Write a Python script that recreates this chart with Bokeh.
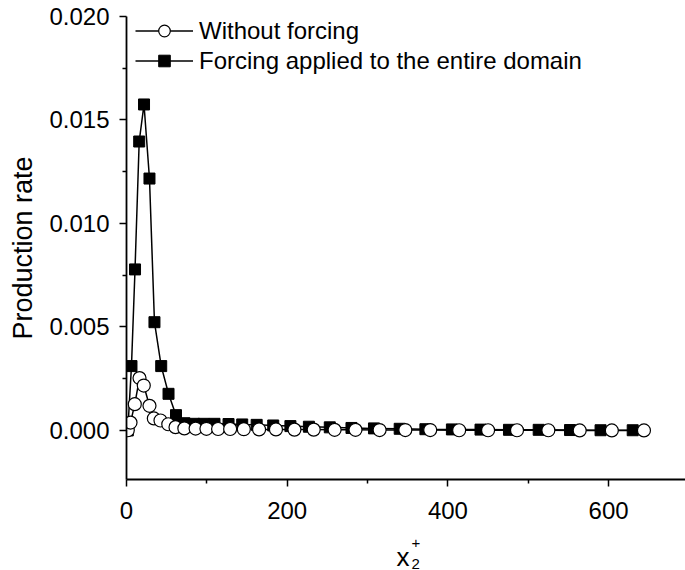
from bokeh.plotting import figure
from bokeh.layouts import column
from bokeh.models import Range1d, FixedTicker, NumeralTickFormatter, Legend, LegendItem
from bokeh.core.properties import value
from bokeh.embed import file_html
from bokeh.resources import INLINE

# ---- data ----
x_without = [1.6, 5, 10.3, 16.2, 21.5, 28.6, 34, 42.3, 52, 61, 72, 86, 99.5, 114, 129, 146,
             165, 186, 209, 233, 259, 285, 315, 347, 378, 414, 450, 486, 525, 564, 604, 644]
y_without = [0.00001, 0.00038, 0.00127, 0.00253, 0.00217, 0.00119, 0.00058, 0.00048, 0.00030,
             0.00016, 0.00010, 0.00009, 0.00008, 0.00007, 0.00007, 0.00006, 0.00005, 0.00005,
             0.00004, 0.00004, 0.00003, 0.00003, 0.00002, 0.00002, 0.00002, 0.00001, 0.00001,
             0.00001, 0.00001, 0.0, 0.0, 0.0]

x_forced = [1.6, 6.2, 10.6, 15.8, 21.8, 28.6, 34.8, 43.2, 52.3, 61.6, 72, 84, 96, 109.5, 127,
            144, 162, 182.6, 204, 227, 253, 280, 308, 340, 372, 405, 440.6, 476, 513, 552, 590, 630]
y_forced = [0.0, 0.00311, 0.00778, 0.01396, 0.01575, 0.01217, 0.00523, 0.00311, 0.00177,
            0.00074, 0.00035, 0.00032, 0.00032, 0.00032, 0.00031, 0.00029, 0.00027, 0.00024,
            0.00021, 0.00018, 0.00015, 0.00012, 0.00010, 0.00008, 0.00006, 0.00005, 0.00004,
            0.00003, 0.00003, 0.00002, 0.00001, 0.00001]

x_major_ticks = [0, 200, 400, 600]
x_minor_ticks = [100, 300, 500]
y_major_ticks = [0.0, 0.005, 0.010, 0.015, 0.020]
y_minor_ticks = [0.0025, 0.0075, 0.0125, 0.0175]

label_without = "Without forcing"
label_forced = "Forcing applied to the entire domain"
y_title = "Production rate"
x_title_parts = ["x", "+", "2"]   # x with superscript + and subscript 2

FONT = "Liberation Sans"
X_END = 695.7

p = figure(width=685, height=528, output_backend="svg", toolbar_location=None,
           x_range=Range1d(0, X_END), y_range=Range1d(-0.00237, 0.020),
           min_border_left=126, min_border_right=0, min_border_top=16, min_border_bottom=49)
p.outline_line_color = None
p.xgrid.visible = False
p.ygrid.visible = False

# forced series (drawn first, circles on top)
l2 = p.line(x_forced, y_forced, line_color="black", line_width=1.5)
s2 = p.scatter(x_forced, y_forced, marker="square", size=11, fill_color="black",
               line_color="black", line_width=1)
l1 = p.line(x_without, y_without, line_color="black", line_width=1.5)
s1 = p.scatter(x_without, y_without, marker="circle", size=13, fill_color="white",
               line_color="black", line_width=1.2)

for ax in (p.xaxis[0], p.yaxis[0]):
    ax.axis_line_color = "black"
    ax.axis_line_width = 1.8
    ax.major_tick_line_color = "black"
    ax.major_tick_line_width = 1.5
    ax.minor_tick_line_color = "black"
    ax.minor_tick_line_width = 1.5
    ax.major_tick_out = 7
    ax.major_tick_in = 0
    ax.minor_tick_out = 4
    ax.minor_tick_in = 0
    ax.major_label_text_font = FONT
    ax.major_label_text_font_size = "24px"
    ax.major_label_text_color = "black"
    ax.axis_label_text_font = FONT
    ax.axis_label_text_font_style = "normal"
    ax.axis_label_text_color = "black"

p.xaxis.major_label_standoff = 15
p.yaxis.major_label_standoff = 10
p.xaxis.ticker = FixedTicker(ticks=x_major_ticks, minor_ticks=x_minor_ticks)
p.yaxis.ticker = FixedTicker(ticks=y_major_ticks, minor_ticks=y_minor_ticks)
p.yaxis.formatter = NumeralTickFormatter(format="0.000")
p.yaxis.axis_label = y_title
p.yaxis.axis_label_text_font_size = "27px"
p.yaxis.axis_label_standoff = 8

legend = Legend(items=[LegendItem(label=label_without, renderers=[l1, s1]),
                       LegendItem(label=label_forced, renderers=[l2, s2])],
                location=(9, 404))
legend.border_line_color = None
legend.background_fill_alpha = 0
legend.label_text_font = FONT
legend.label_text_font_size = "24px"
legend.label_text_color = "black"
legend.glyph_width = 58
legend.glyph_height = 29
legend.label_height = 29
legend.spacing = 1
legend.padding = 0
legend.margin = 0
legend.label_standoff = 6
p.add_layout(legend)

# strip below the plot holding the x-axis title x_2^+
t = figure(width=685, height=42, output_backend="svg", toolbar_location=None,
           x_range=Range1d(0, X_END), y_range=Range1d(0, 42),
           min_border_left=126, min_border_right=0, min_border_top=0, min_border_bottom=0)
t.axis.visible = False
t.grid.visible = False
t.outline_line_color = None
t.text(x=[344], y=[14], text=[x_title_parts[0]], text_font=value(FONT), text_font_size="26px",
       text_align="center", text_baseline="alphabetic", text_color="black")
t.text(x=[360], y=[28], text=[x_title_parts[1]], text_font=value(FONT), text_font_size="15px",
       text_align="center", text_baseline="alphabetic", text_color="black")
t.text(x=[360], y=[7], text=[x_title_parts[2]], text_font=value(FONT), text_font_size="15px",
       text_align="center", text_baseline="alphabetic", text_color="black")

layout = column(p, t, spacing=0)
open("out.html", "w").write(file_html(layout, INLINE))
